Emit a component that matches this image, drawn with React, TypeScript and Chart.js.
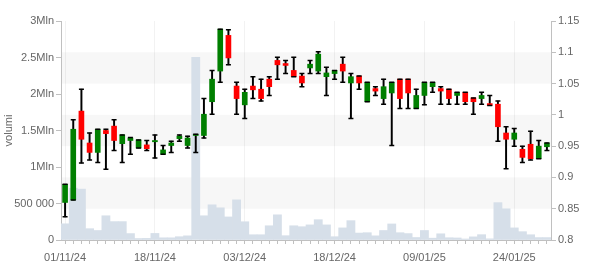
import React, { useEffect, useRef } from 'react';
import { Chart, registerables } from 'chart.js';

Chart.register(...registerables);

const dates = [
  '01/11/24', '04/11/24', '05/11/24', '06/11/24', '07/11/24', '08/11/24', '11/11/24', '12/11/24', '13/11/24', '14/11/24',
  '15/11/24', '18/11/24', '19/11/24', '20/11/24', '21/11/24', '22/11/24', '25/11/24', '26/11/24', '27/11/24', '28/11/24',
  '29/11/24', '02/12/24', '03/12/24', '04/12/24', '05/12/24', '06/12/24', '09/12/24', '10/12/24', '11/12/24', '12/12/24',
  '13/12/24', '16/12/24', '17/12/24', '18/12/24', '19/12/24', '20/12/24', '23/12/24', '27/12/24', '30/12/24', '02/01/25',
  '03/01/25', '06/01/25', '07/01/25', '08/01/25', '09/01/25', '10/01/25', '13/01/25', '14/01/25', '15/01/25', '16/01/25',
  '17/01/25', '20/01/25', '21/01/25', '22/01/25', '23/01/25', '24/01/25', '27/01/25', '28/01/25', '29/01/25', '30/01/25',
];

const opens = [
  0.860, 0.864, 1.006, 0.955, 0.940, 0.975, 0.982, 0.954, 0.959, 0.947,
  0.952, 0.957, 0.937, 0.951, 0.962, 0.951, 0.967, 0.967, 1.021, 1.070,
  1.127, 1.046, 1.016, 1.046, 1.041, 1.057, 1.087, 1.082, 1.071, 1.062,
  1.075, 1.070, 1.061, 1.066, 1.081, 1.051, 1.062, 1.021, 1.042, 1.026,
  1.035, 1.057, 1.057, 1.010, 1.031, 1.045, 1.042, 1.041, 1.031, 1.036,
  1.027, 1.026, 1.018, 1.017, 0.971, 0.961, 0.945, 0.953, 0.930, 0.949,
];
const highs = [
  0.889, 0.992, 1.041, 0.971, 0.977, 0.977, 0.992, 0.968, 0.964, 0.960,
  0.959, 0.968, 0.951, 0.958, 0.968, 0.966, 0.969, 1.026, 1.071, 1.137,
  1.136, 1.052, 1.041, 1.061, 1.057, 1.061, 1.092, 1.087, 1.092, 1.066,
  1.087, 1.101, 1.076, 1.071, 1.092, 1.066, 1.062, 1.052, 1.045, 1.057,
  1.052, 1.057, 1.057, 1.041, 1.052, 1.052, 1.045, 1.041, 1.036, 1.036,
  1.027, 1.036, 1.031, 1.022, 0.981, 0.978, 0.950, 0.974, 0.959, 0.955,
];
const lows = [
  0.837, 0.864, 0.923, 0.928, 0.924, 0.913, 0.943, 0.924, 0.937, 0.947,
  0.943, 0.931, 0.937, 0.940, 0.958, 0.947, 0.940, 0.963, 1.001, 1.052,
  1.080, 1.001, 0.994, 1.026, 1.022, 1.031, 1.057, 1.066, 1.061, 1.045,
  1.066, 1.066, 1.031, 1.057, 1.052, 0.994, 1.041, 1.021, 1.031, 1.017,
  0.951, 1.010, 1.010, 1.010, 1.016, 1.036, 1.017, 1.017, 1.017, 1.017,
  1.001, 1.017, 1.015, 0.958, 0.914, 0.950, 0.924, 0.928, 0.930, 0.943,
];
const closes = [
  0.889, 0.977, 0.961, 0.940, 0.977, 0.970, 0.959, 0.968, 0.963, 0.960,
  0.946, 0.959, 0.944, 0.955, 0.966, 0.963, 0.969, 1.001, 1.057, 1.137,
  1.091, 1.026, 1.036, 1.040, 1.026, 1.045, 1.080, 1.079, 1.061, 1.051,
  1.081, 1.097, 1.067, 1.071, 1.070, 1.061, 1.051, 1.052, 1.038, 1.045,
  1.052, 1.026, 1.035, 1.031, 1.052, 1.052, 1.038, 1.026, 1.036, 1.021,
  1.021, 1.031, 1.015, 0.981, 0.961, 0.971, 0.932, 0.930, 0.950, 0.955,
];
const volumes = [
  222000, 710000, 697000, 155000, 130000, 332000, 252000, 252000, 88000, 20000,
  22000, 90000, 30000, 30000, 45000, 57000, 2504000, 332000, 482000, 441000,
  316000, 550000, 250000, 72000, 72000, 195000, 345000, 59000, 195000, 182000,
  207000, 278000, 207000, 45000, 166000, 265000, 95000, 100000, 57000, 130000,
  220000, 100000, 88000, 34000, 130000, 25000, 85000, 31000, 28000, 14000,
  43000, 73000, 16000, 512000, 428000, 166000, 114000, 72000, 33000, 33000,
];

const volumeTickValues = [0, 500000, 1000000, 1500000, 2000000, 2500000, 3000000];
const volumeTickLabels = ['0', '500 000', '1Mln', '1.5Mln', '2Mln', '2.5Mln', '3Mln'];
const priceTickValues = [0.8, 0.85, 0.9, 0.95, 1, 1.05, 1.1, 1.15];
const priceTickLabels = ['0.8', '0.85', '0.9', '0.95', '1', '1.05', '1.1', '1.15'];
const priceBands = [[0.85, 0.9], [0.95, 1.0], [1.05, 1.1]];
const labelEvery = 11;

const UP = '#007f00';
const DOWN = '#ff0000';
const AXIS = '#c0c0c0';
const TEXT = '#666666';
const FONT = { family: 'Liberation Sans, Arial, sans-serif', size: 11 };

const bandsPlugin = {
  id: 'bands',
  beforeDraw(chart: any) {
    const { ctx, chartArea, scales } = chart;
    const y1 = scales.y1;
    if (!y1) return;
    ctx.save();
    ctx.fillStyle = '#f7f7f7';
    for (const [a, b] of priceBands) {
      const top = y1.getPixelForValue(b);
      const bot = y1.getPixelForValue(a);
      ctx.fillRect(chartArea.left, top, chartArea.right - chartArea.left, bot - top);
    }
    ctx.restore();
  },
};

export default function App() {
  const ref = useRef<HTMLCanvasElement>(null);
  useEffect(() => {
    document.body.style.margin = '0';
    const colors = opens.map((o, i) => (closes[i] >= o ? UP : DOWN));
    const chart = new Chart(ref.current!, {
      type: 'bar',
      data: {
        labels: dates,
        datasets: [
          {
            type: 'line',
            data: highs,
            yAxisID: 'y1',
            showLine: false,
            pointStyle: 'line',
            pointRadius: 2.5,
            pointBorderWidth: 1.5,
            borderColor: '#000',
            pointBorderColor: '#000',
            order: 1,
          } as any,
          {
            type: 'line',
            data: lows,
            yAxisID: 'y1',
            showLine: false,
            pointStyle: 'line',
            pointRadius: 2.5,
            pointBorderWidth: 1.5,
            borderColor: '#000',
            pointBorderColor: '#000',
            order: 1,
          } as any,
          {
            data: opens.map((o, i) => [o, closes[i]]),
            yAxisID: 'y1',
            backgroundColor: colors,
            barThickness: 5,
            grouped: false,
            order: 2,
          } as any,
          {
            data: lows.map((l, i) => [l, highs[i]]),
            yAxisID: 'y1',
            backgroundColor: '#000',
            barThickness: 1.3,
            grouped: false,
            order: 3,
          } as any,
          {
            data: volumes,
            yAxisID: 'y',
            backgroundColor: '#d6dfe9',
            barPercentage: 1,
            categoryPercentage: 1,
            grouped: false,
            order: 4,
          } as any,
        ],
      },
      options: {
        animation: false,
        responsive: true,
        maintainAspectRatio: false,
        layout: { padding: { top: 21, left: 0, right: 0, bottom: 0 } },
        plugins: { legend: { display: false }, tooltip: { enabled: false } },
        scales: {
          x: {
            offset: true,
            grid: {
              offset: false,
              drawOnChartArea: true,
              color: (c: any) => (c.index % labelEvery === 0 ? 'rgba(0,0,0,0.05)' : 'rgba(0,0,0,0)'),
              tickColor: AXIS,
              tickLength: 4,
            },
            border: { color: AXIS },
            ticks: {
              autoSkip: false,
              maxRotation: 0,
              color: TEXT,
              font: FONT,
              padding: 7,
              callback: (_v: any, i: number) => (i % labelEvery === 0 ? dates[i] : ''),
            },
            afterFit: (s: any) => { s.height = 30; },
          },
          y: {
            position: 'left',
            min: 0,
            max: 3000000,
            afterBuildTicks: (s: any) => { s.ticks = volumeTickValues.map((v) => ({ value: v })); },
            grid: { drawOnChartArea: false, tickColor: AXIS, tickLength: 5 },
            border: { color: AXIS },
            ticks: {
              color: TEXT,
              font: FONT,
              padding: 2,
              callback: (v: any) => volumeTickLabels[volumeTickValues.indexOf(Number(v))],
            },
            title: { display: true, text: 'volumi', color: TEXT, font: FONT, padding: { top: 2, bottom: 0 } },
            afterFit: (s: any) => { s.width = 61; },
          },
          y1: {
            position: 'right',
            min: 0.8,
            max: 1.15,
            afterBuildTicks: (s: any) => { s.ticks = priceTickValues.map((v) => ({ value: v })); },
            grid: { drawOnChartArea: false, tickColor: AXIS, tickLength: 5 },
            border: { color: AXIS },
            ticks: {
              color: TEXT,
              font: FONT,
              padding: 2,
              callback: (v: any) => {
                const k = priceTickValues.findIndex((p) => Math.abs(p - Number(v)) < 1e-9);
                return k >= 0 ? priceTickLabels[k] : '';
              },
            },
            afterFit: (s: any) => { s.width = 49; },
          },
        },
      },
      plugins: [bandsPlugin],
    });
    return () => chart.destroy();
  }, []);
  return (
    <div style={{ width: 600, height: 270, position: 'relative' }}>
      <canvas ref={ref} />
    </div>
  );
}
